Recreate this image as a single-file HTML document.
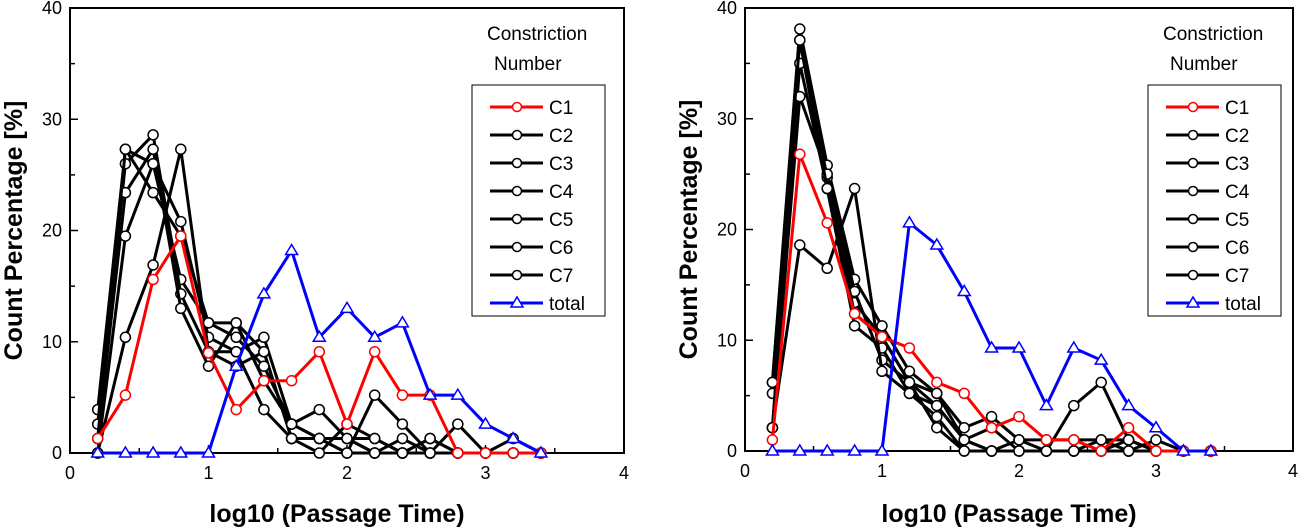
<!DOCTYPE html>
<html><head><meta charset="utf-8"><style>
body{margin:0;background:#fff;}
svg{display:block;font-family:"Liberation Sans",Arial,sans-serif;}
</style></head><body>
<svg id="svg" width="1300" height="528" viewBox="0 0 1300 528"></svg>
<script>
const xs=[0.2,0.4,0.6,0.8,1.0,1.2,1.4,1.6,1.8,2.0,2.2,2.4,2.6,2.8,3.0,3.2,3.4];
const seriesNames=["C1","C2","C3","C4","C5","C6","C7","total"];
const leftC1=[1.3,5.2,15.6,19.5,9,3.9,6.5,6.5,9.1,2.6,9.1,5.2,5.2,0,0,0,0];
const leftC2=[3.9,27.3,26,15.6,11.7,11.7,9.1,1.3,1.3,1.3,0,1.3,0,0,0,0,0];
const leftC3=[2.6,26,28.6,14.3,9.1,9.1,10.4,2.6,3.9,1.3,1.3,0,1.3,0,0,0,0];
const leftC4=[1.3,23.4,27.3,13,7.8,11.7,6.5,2.6,1.3,0,5.2,2.6,0,2.6,0,0,0];
const leftC5=[0,19.5,26,20.8,10.4,9.1,3.9,1.3,0,2.6,1.3,0,1.3,0,0,0,0];
const leftC6=[0,10.4,16.9,27.3,9.1,7.8,9.1,1.3,1.3,0,0,0,0,0,0,1.3,0];
const leftC7=[1.3,27.3,23.4,19.5,11.7,10.4,7.8,2.6,1.3,1.3,0,0,0,0,0,0,0];
const leftTotal=[0,0,0,0,0,7.8,14.3,18.2,10.4,13,10.4,11.7,5.2,5.2,2.6,1.3,0];
const rightC1=[1,26.8,20.6,12.4,10.3,9.3,6.2,5.2,2.1,3.1,1,1,0,2.1,0,0,0];
const rightC2=[6.2,38.1,25.8,15.5,11.3,7.2,5.2,2.1,3.1,1,1,1,1,1,0,0,0];
const rightC3=[5.2,37.1,24.7,13.4,10.3,6.2,4.1,1,0,0,0,0,0,1,0,0,0];
const rightC4=[2.1,35,23.7,11.3,9.3,5.2,3.1,0,0,0,0,0,0,0,0,0,0];
const rightC5=[2.1,32,25,14.4,8.2,6.2,2.1,0,0,1,0,0,1,0,1,0,0];
const rightC6=[2.1,18.6,16.5,23.7,7.2,5.2,4.1,1,0,0,0,4.1,6.2,1,0,0,0];
const rightC7=[6.2,37.1,23.7,12.4,10.3,6.2,5.2,1,2.1,0,0,0,0,0,0,0,0];
const rightTotal=[0,0,0,0,0,20.6,18.6,14.4,9.3,9.3,4.1,9.3,8.2,4.1,2.1,0,0];
const xTicks=[0,1,2,3,4];
const yTicks=[0,10,20,30,40];
const NS="http://www.w3.org/2000/svg";
const svg=document.getElementById('svg');
function mk(tag,attrs,parent,text){const e=document.createElementNS(NS,tag);for(const k in attrs)e.setAttribute(k,attrs[k]);if(text!==undefined)e.textContent=text;(parent||svg).appendChild(e);return e;}

function chart(prefix,L,R,T,B,data,legX){
  const g=mk('g',{});
  
  
  const sx=v=>L+(v/4)*(R-L), sy=v=>B-(v/40)*(B-T);
  const frame=mk('rect',{x:L,y:T,width:R-L,height:B-T,fill:'none',stroke:'#000','stroke-width':2},g);
  
  
  for(let v=0;v<=4;v+=0.5){const len=v%1===0?8:5;mk('line',{x1:sx(v),x2:sx(v),y1:B,y2:B-len,stroke:'#000','stroke-width':1.5},g);}
  for(let v=0;v<=40;v+=5){const len=v%10===0?8:5;mk('line',{x1:L,x2:L+len,y1:sy(v),y2:sy(v),stroke:'#000','stroke-width':1.5},g);}
  xTicks.forEach(v=>{const t=mk('text',{x:sx(v),y:B+26,'text-anchor':'middle','font-size':18},g,String(v));
    
    });
  yTicks.forEach(v=>{const t=mk('text',{x:L-8,y:sy(v)+6,'text-anchor':'end','font-size':18},g,String(v));
    
    });
  const xt=mk('text',{x:(L+R)/2-10,y:522,'text-anchor':'middle','font-size':25,'font-weight':'bold'},g,'log10 (Passage Time)');
  
  
  const yt=mk('text',{x:0,y:0,'text-anchor':'middle','font-size':25,'font-weight':'bold',transform:`translate(${L-48},${(T+B)/2}) rotate(-90)`},g,'Count Percentage [%]');
  
  
  const order=[1,2,3,4,5,6,0,7];
  order.forEach(i=>{
    const vals=data[i];const col=i===0?'#f00':(i===7?'#00f':'#000');
    const sg=mk('g',{},g);
    
    
    const pts=vals.map((v,j)=>sx(xs[j])+','+sy(v)).join(' ');
    mk('polyline',{points:pts,fill:'none',stroke:col,'stroke-width':3,'stroke-linejoin':'round'},sg);
    vals.forEach((v,j)=>{
      const cx=sx(xs[j]),cy=sy(v);let m;
      if(i===7){m=mk('polygon',{points:`${cx},${cy-6} ${cx-6},${cy+4} ${cx+6},${cy+4}`,fill:'#fff',stroke:col,'stroke-width':1.5},sg);}
      else{m=mk('circle',{cx:cx,cy:cy,r:5,fill:'#fff',stroke:col,'stroke-width':1.5},sg);}
      
      
    });
  });
  const lt1=mk('text',{x:legX+15,y:40,'font-size':19},g,'Constriction');
  
  
  mk('text',{x:legX+22,y:70,'font-size':19},g,'Number');
  const lb=mk('rect',{x:legX,y:85,width:133,height:231,fill:'#fff',stroke:'#000','stroke-width':1},g);
  
  
  seriesNames.forEach((n,i)=>{
    const y=107+i*28;const col=i===0?'#f00':(i===7?'#00f':'#000');
    const eg=mk('g',{},g);
    
    
    mk('line',{x1:legX+18,x2:legX+71,y1:y,y2:y,stroke:col,'stroke-width':3},eg);
    if(i===7)mk('polygon',{points:`${legX+45},${y-6} ${legX+39},${y+4} ${legX+51},${y+4}`,fill:'#fff',stroke:col,'stroke-width':1.5},eg);
    else mk('circle',{cx:legX+45,cy:y,r:4.5,fill:'#fff',stroke:col,'stroke-width':1.5},eg);
    mk('text',{x:legX+77,y:y+7,'font-size':19},eg,n);
  });
}
chart('left',70,624,8,453,[leftC1,leftC2,leftC3,leftC4,leftC5,leftC6,leftC7,leftTotal],472);
chart('right',745,1293,8,451,[rightC1,rightC2,rightC3,rightC4,rightC5,rightC6,rightC7,rightTotal],1148);
</script>
</body></html>
